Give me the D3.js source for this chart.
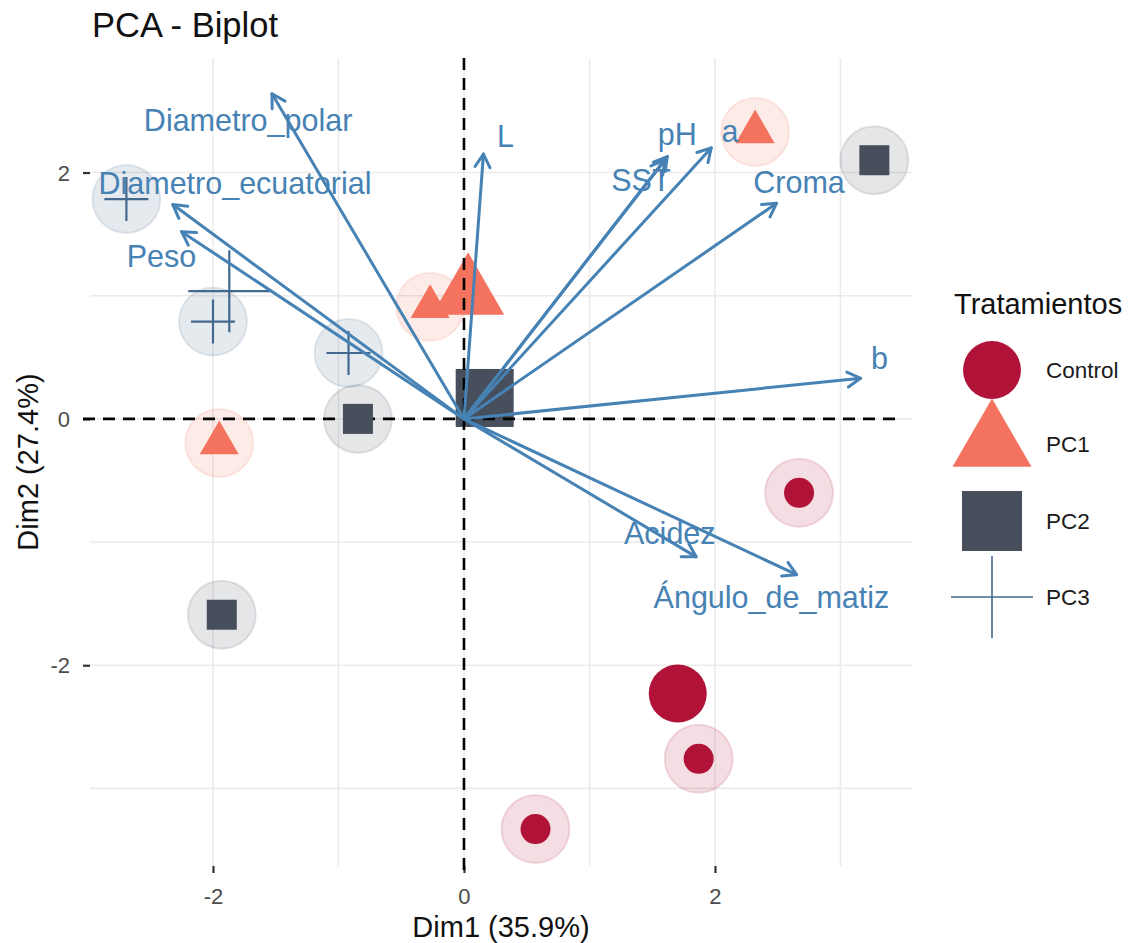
<!DOCTYPE html>
<html>
<head>
<meta charset="utf-8">
<script src="https://cdn.jsdelivr.net/npm/d3@7"></script>
<style>
  html, body { margin: 0; padding: 0; background: #ffffff; }
  svg { display: block; font-family: "Liberation Sans", Arial, Helvetica, sans-serif; }
</style>
</head>
<body>
<svg id="chart" width="1128" height="943"></svg>
<script>
// Treatment groups
const groups = ["Control", "PC1", "PC2", "PC3"];
const groupColors = ["#B01238", "#F4735F", "#474F5C", "#44698F"];
const groupShapes = ["circle", "triangle", "square", "plus"];

// Individuals (PCA scores)
const indGroup = ["Control", "Control", "Control", "PC1", "PC1", "PC1", "PC2", "PC2", "PC2", "PC3", "PC3", "PC3"];
const indDim1 = [2.67, 1.87, 0.57, 2.32, -0.27, -1.95, 3.27, -0.845, -1.93, -2.69, -2.00, -0.92];
const indDim2 = [-0.60, -2.76, -3.33, 2.33, 0.91, -0.195, 2.10, 0.00, -1.59, 1.785, 0.79, 0.535];

// Variables (loadings, scaled) and their label anchors
const varNames = ["Diametro_polar", "Diametro_ecuatorial", "Peso", "L", "SST", "pH", "a", "Croma", "b", "Acidez", "Ángulo_de_matiz"];
const varDim1 = [-1.53, -2.32, -2.25, 0.155, 1.60, 1.62, 1.97, 2.49, 3.16, 1.85, 2.65];
const varDim2 = [2.64, 1.74, 1.52, 2.15, 2.10, 2.13, 2.20, 1.75, 0.33, -1.12, -1.265];
const labDim1 = [-1.72, -1.825, -2.41, 0.33, 1.41, 1.70, 2.12, 2.67, 3.31, 1.64, 2.45];
const labDim2 = [2.43, 1.915, 1.32, 2.30, 1.94, 2.31, 2.34, 1.92, 0.495, -0.925, -1.45];

// Axes
const xTicks = [-2, 0, 2];
const yTicks = [-2, 0, 2];
const xMinor = [-1, 1, 3];
const yMinor = [-3, -1, 1];
const xDomain = [-2.98, 3.57];
const yDomain = [-3.63, 2.93];

const svg = d3.select("#chart");
const panel = { left: 90, right: 912, top: 58, bottom: 866 };

const x = d3.scaleLinear().domain(xDomain).range([panel.left, panel.right]);
const y = d3.scaleLinear().domain(yDomain).range([panel.bottom, panel.top]);
const color = d3.scaleOrdinal().domain(groups).range(groupColors);
const shape = d3.scaleOrdinal().domain(groups).range(groupShapes);

// Grid
const grid = svg.append("g");
grid.selectAll(".vg").data(xTicks.concat(xMinor)).join("line")
  .attr("x1", d => x(d)).attr("x2", d => x(d))
  .attr("y1", panel.top).attr("y2", panel.bottom)
  .attr("stroke", "#ebebeb").attr("stroke-width", 1.6);
grid.selectAll(".hg").data(yTicks.concat(yMinor)).join("line")
  .attr("y1", d => y(d)).attr("y2", d => y(d))
  .attr("x1", panel.left).attr("x2", panel.right)
  .attr("stroke", "#ebebeb").attr("stroke-width", 1.6);

// Axes with ticks
const fmt = d => String(d);
const xAxis = d3.axisBottom(x).tickValues(xTicks).tickSize(7).tickPadding(12).tickFormat(fmt);
const yAxis = d3.axisLeft(y).tickValues(yTicks).tickSize(7).tickPadding(13).tickFormat(fmt);
const gx = svg.append("g").attr("transform", `translate(0,${panel.bottom})`).call(xAxis);
const gy = svg.append("g").attr("transform", `translate(${panel.left},0)`).call(yAxis);
[gx, gy].forEach(g => {
  g.select(".domain").remove();
  g.selectAll(".tick line").attr("stroke", "#333333").attr("stroke-width", 2.2);
  g.selectAll(".tick text").attr("fill", "#4d4d4d").style("font-size", "22px")
    .style("font-family", "'Liberation Sans', Arial, sans-serif");
});
gx.selectAll(".tick text").attr("dy", "0.85em");
gy.selectAll(".tick text").attr("dy", "0.35em");

// Symbol drawing helper
function drawShape(g, kind, cx, cy, size, fill, strokeW) {
  if (kind === "circle") {
    g.append("circle").attr("cx", cx).attr("cy", cy).attr("r", size / 2).attr("fill", fill);
  } else if (kind === "square") {
    g.append("rect").attr("x", cx - size / 2).attr("y", cy - size / 2)
      .attr("width", size).attr("height", size).attr("fill", fill);
  } else if (kind === "triangle") {
    const h = size * 0.866;
    const p = [[cx, cy - 2 * h / 3], [cx - size / 2, cy + h / 3], [cx + size / 2, cy + h / 3]];
    g.append("path").attr("d", d3.line()(p) + "Z").attr("fill", fill);
  } else if (kind === "plus") {
    g.append("path")
      .attr("d", `M${cx - size / 2},${cy}H${cx + size / 2}M${cx},${cy - size / 2}V${cy + size / 2}`)
      .attr("stroke", fill).attr("stroke-width", strokeW || 2.2).attr("fill", "none");
  }
}

const indData = indGroup.map((g, i) => ({ group: g, d1: indDim1[i], d2: indDim2[i] }));
const centroids = groups.map(g => {
  const pts = indData.filter(d => d.group === g);
  return { group: g, d1: d3.mean(pts, d => d.d1), d2: d3.mean(pts, d => d.d2) };
});

// Halos around individuals
svg.append("g").selectAll("circle").data(indData).join("circle")
  .attr("cx", d => x(d.d1)).attr("cy", d => y(d.d2)).attr("r", 34)
  .attr("fill", d => color(d.group)).attr("fill-opacity", 0.14)
  .attr("stroke", d => color(d.group)).attr("stroke-opacity", 0.14).attr("stroke-width", 2);

// Group mean points
const bigSizes = { circle: 58, triangle: 72, square: 58, plus: 82 };
const gMeans = svg.append("g");
centroids.forEach(c => {
  const k = shape(c.group);
  drawShape(gMeans, k, x(c.d1), y(c.d2), bigSizes[k], color(c.group), 2.2);
});

// Dashed reference lines
svg.append("line").attr("x1", x(0)).attr("x2", x(0)).attr("y1", panel.top).attr("y2", panel.bottom + 7)
  .attr("stroke", "#000").attr("stroke-width", 2.6).attr("stroke-dasharray", "12,8");
svg.append("line").attr("y1", y(0)).attr("y2", y(0)).attr("x1", panel.left - 7).attr("x2", panel.right - 10)
  .attr("stroke", "#000").attr("stroke-width", 2.6).attr("stroke-dasharray", "12,8");

// Individual points
const smallSizes = { circle: 30, triangle: 39, square: 30, plus: 44 };
const gInd = svg.append("g");
indData.forEach(d => {
  const k = shape(d.group);
  drawShape(gInd, k, x(d.d1), y(d.d2), smallSizes[k], color(d.group), 2.2);
});

// Variable arrows
const arrowColor = "#4682B4";
const gArrows = svg.append("g").attr("fill", "none").attr("stroke", arrowColor)
  .attr("stroke-width", 3).attr("stroke-linecap", "round").attr("stroke-linejoin", "round");
varNames.forEach((n, i) => {
  const x0 = x(0), y0 = y(0), x1 = x(varDim1[i]), y1 = y(varDim2[i]);
  const ang = Math.atan2(y1 - y0, x1 - x0);
  const L = 15, a = Math.PI / 6;
  const hx1 = x1 - L * Math.cos(ang - a), hy1 = y1 - L * Math.sin(ang - a);
  const hx2 = x1 - L * Math.cos(ang + a), hy2 = y1 - L * Math.sin(ang + a);
  gArrows.append("path").attr("d", `M${x0},${y0}L${x1},${y1}`);
  gArrows.append("path").attr("d", `M${hx1},${hy1}L${x1},${y1}L${hx2},${hy2}`);
});

// Variable labels
svg.append("g").selectAll("text").data(varNames).join("text")
  .attr("x", (d, i) => x(labDim1[i])).attr("y", (d, i) => y(labDim2[i]))
  .attr("text-anchor", "middle").attr("dominant-baseline", "central")
  .attr("fill", arrowColor).style("font-size", "30.5px")
  .text(d => d);

// Titles
svg.append("text").attr("x", 92).attr("y", 37).attr("fill", "#111")
  .style("font-size", "34.5px").text("PCA - Biplot");
svg.append("text").attr("x", (panel.left + panel.right) / 2).attr("y", 937)
  .attr("text-anchor", "middle").attr("fill", "#111").style("font-size", "29px").text("Dim1 (35.9%)");
svg.append("text").attr("transform", `translate(38,${(panel.top + panel.bottom) / 2}) rotate(-90)`)
  .attr("text-anchor", "middle").attr("fill", "#111").style("font-size", "29px").text("Dim2 (27.4%)");

// Legend
const legend = svg.append("g");
legend.append("text").attr("x", 954).attr("y", 314).attr("fill", "#111")
  .style("font-size", "29px").text("Tratamientos");
const legY = [370, 444, 521, 597];
const legSizes = { circle: 58, triangle: 79, square: 60, plus: 82 };
groups.forEach((g, i) => {
  const k = shape(g);
  drawShape(legend, k, 992, legY[i], legSizes[k], color(g), 1.6);
  legend.append("text").attr("x", 1046).attr("y", legY[i]).attr("dominant-baseline", "central")
    .attr("fill", "#1a1a1a").style("font-size", "22.5px").text(g);
});
</script>
</body>
</html>
